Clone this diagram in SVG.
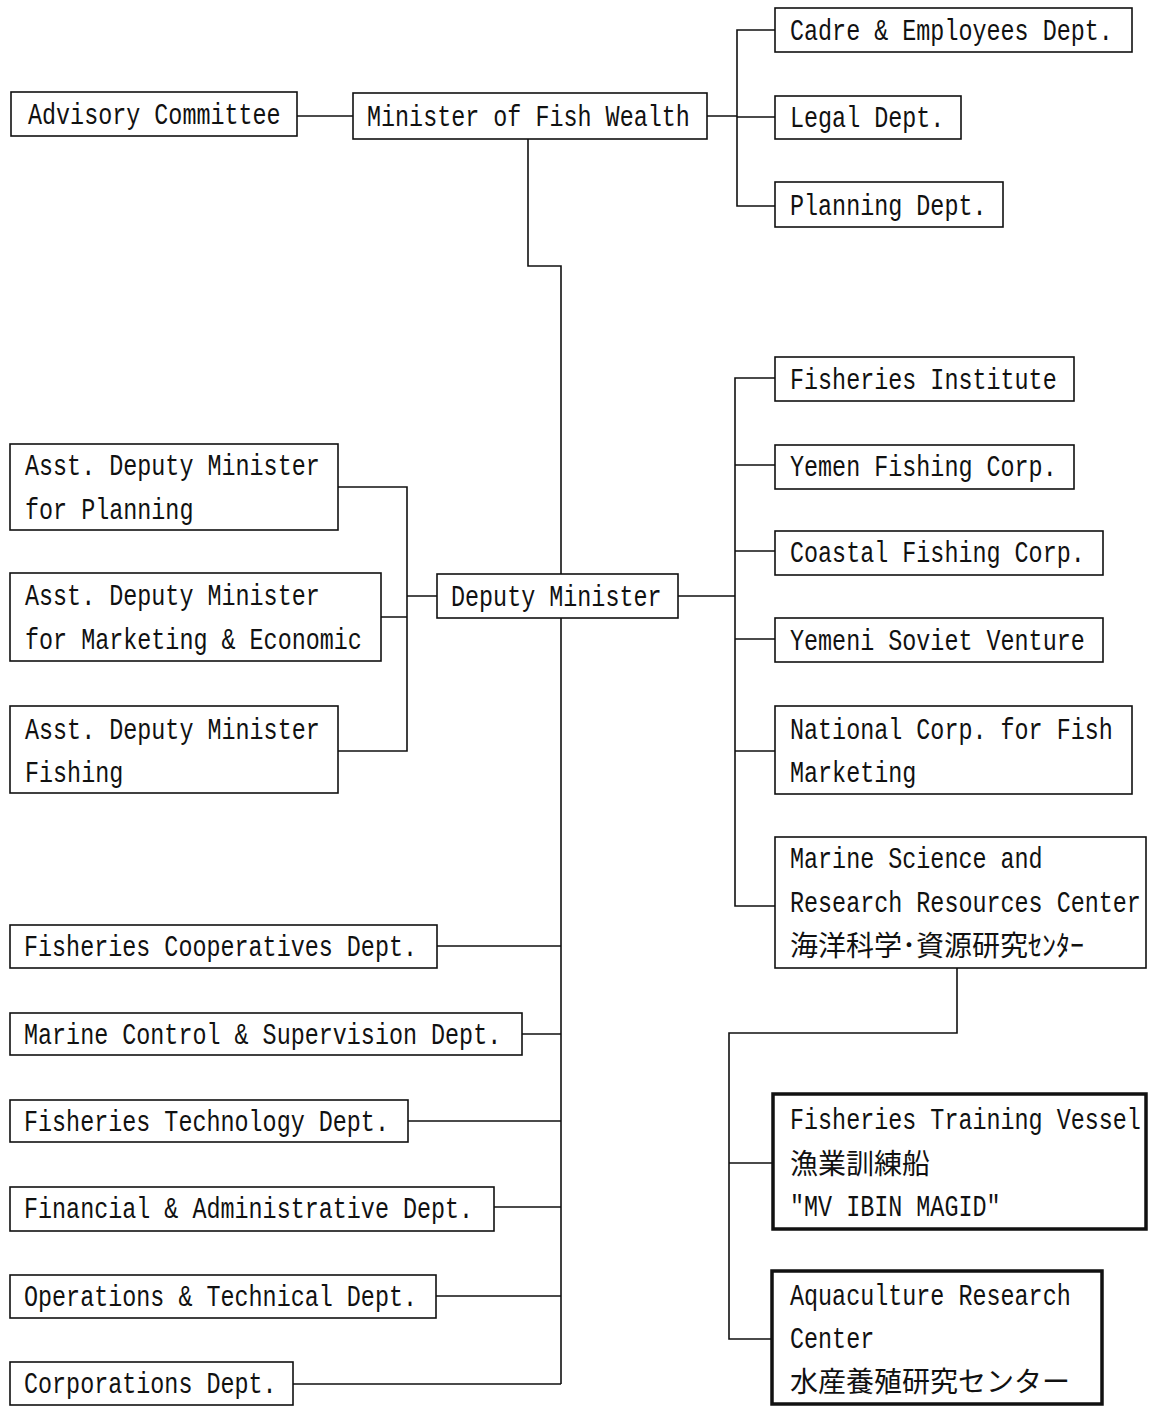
<svg xmlns="http://www.w3.org/2000/svg" width="1150" height="1407" viewBox="0 0 1150 1407">
<style>
.bx{fill:#fff;stroke:#111;stroke-width:1.6}
.bk{fill:#fff;stroke:#111;stroke-width:3.5}
.ln{fill:none;stroke:#111;stroke-width:1.6}
.t{font-family:"Liberation Mono","DejaVu Sans Mono",monospace;font-size:23.4px;fill:#111}
.j{font-family:"Noto Sans CJK JP","Noto Sans CJK SC",sans-serif;font-size:28px;fill:#111}
</style>
<rect width="1150" height="1407" fill="#fff"/>
<g id="connectors" class="ln">
<path d="M297 116H353"/>
<path d="M707 116H737M775 30H737V206H775M737 117H775"/>
<path d="M528 139V266H561V1384"/>
<path d="M338 487H407V751H338M381 617H407M407 596H437"/>
<path d="M678 596H735M775 378H735V906H775M735 465H775M735 551H775M735 639H775M735 751H775"/>
<path d="M957 968V1033H729V1339H772M729 1163H773"/>
<path d="M437 946H561M522 1034H561M408 1121H561M494 1207H561M436 1296H561M293 1384H561"/>
</g>
<g id="advisory"><rect class="bx" x="11" y="92" width="286" height="44"/><text class="t" transform="translate(28 124) scale(1 1.3)">Advisory Committee</text></g>
<g id="minister"><rect class="bx" x="353" y="93" width="354" height="46"/><text class="t" transform="translate(367 126) scale(1 1.3)">Minister of Fish Wealth</text></g>
<g id="cadre"><rect class="bx" x="775" y="8" width="357" height="44"/><text class="t" transform="translate(790 40) scale(1 1.3)">Cadre &amp; Employees Dept.</text></g>
<g id="legal"><rect class="bx" x="775" y="96" width="186" height="43"/><text class="t" transform="translate(790 127) scale(1 1.3)">Legal Dept.</text></g>
<g id="planning"><rect class="bx" x="775" y="182" width="228" height="45"/><text class="t" transform="translate(790 215) scale(1 1.3)">Planning Dept.</text></g>
<g id="deputy"><rect class="bx" x="437" y="574" width="241" height="44"/><text class="t" transform="translate(451 606) scale(1 1.3)">Deputy Minister</text></g>
<g id="asst-planning"><rect class="bx" x="10" y="444" width="328" height="86"/><text class="t" transform="translate(25 475) scale(1 1.3)">Asst. Deputy Minister</text><text class="t" transform="translate(25 519) scale(1 1.3)">for Planning</text></g>
<g id="asst-marketing"><rect class="bx" x="10" y="573" width="371" height="88"/><text class="t" transform="translate(25 605) scale(1 1.3)">Asst. Deputy Minister</text><text class="t" transform="translate(25 649) scale(1 1.3)">for Marketing &amp; Economic</text></g>
<g id="asst-fishing"><rect class="bx" x="10" y="706" width="328" height="87"/><text class="t" transform="translate(25 739) scale(1 1.3)">Asst. Deputy Minister</text><text class="t" transform="translate(25 782) scale(1 1.3)">Fishing</text></g>
<g id="fisheries-institute"><rect class="bx" x="775" y="357" width="299" height="44"/><text class="t" transform="translate(790 389) scale(1 1.3)">Fisheries Institute</text></g>
<g id="yemen-fishing"><rect class="bx" x="775" y="445" width="299" height="44"/><text class="t" transform="translate(790 476) scale(1 1.3)">Yemen Fishing Corp.</text></g>
<g id="coastal"><rect class="bx" x="775" y="531" width="328" height="44"/><text class="t" transform="translate(790 562) scale(1 1.3)">Coastal Fishing Corp.</text></g>
<g id="yemeni-soviet"><rect class="bx" x="775" y="618" width="328" height="44"/><text class="t" transform="translate(790 650) scale(1 1.3)">Yemeni Soviet Venture</text></g>
<g id="national-corp"><rect class="bx" x="775" y="706" width="357" height="88"/><text class="t" transform="translate(790 739) scale(1 1.3)">National Corp. for Fish</text><text class="t" transform="translate(790 782) scale(1 1.3)">Marketing</text></g>
<g id="marine-science"><rect class="bx" x="775" y="837" width="371" height="131"/><text class="t" transform="translate(790 868) scale(1 1.3)">Marine Science and</text><text class="t" transform="translate(790 912) scale(1 1.3)">Research Resources Center</text><text class="j" x="790" y="956">海洋科学･資源研究ｾﾝﾀｰ</text></g>
<g id="training-vessel"><rect class="bk" x="773" y="1094" width="373" height="135"/><text class="t" transform="translate(790 1129) scale(1 1.3)">Fisheries Training Vessel</text><text class="j" x="790" y="1174">漁業訓練船</text><text class="t" transform="translate(790 1216) scale(1 1.3)">"MV IBIN MAGID"</text></g>
<g id="aquaculture"><rect class="bk" x="772" y="1271" width="330" height="133"/><text class="t" transform="translate(790 1305) scale(1 1.3)">Aquaculture Research</text><text class="t" transform="translate(790 1348) scale(1 1.3)">Center</text><text class="j" x="790" y="1392">水産養殖研究センター</text></g>
<g id="cooperatives"><rect class="bx" x="10" y="925" width="427" height="43"/><text class="t" transform="translate(24 956) scale(1 1.3)">Fisheries Cooperatives Dept.</text></g>
<g id="marine-control"><rect class="bx" x="10" y="1013" width="512" height="42"/><text class="t" transform="translate(24 1044) scale(1 1.3)">Marine Control &amp; Supervision Dept.</text></g>
<g id="technology"><rect class="bx" x="10" y="1100" width="398" height="42"/><text class="t" transform="translate(24 1131) scale(1 1.3)">Fisheries Technology Dept.</text></g>
<g id="financial"><rect class="bx" x="10" y="1187" width="484" height="44"/><text class="t" transform="translate(24 1218) scale(1 1.3)">Financial &amp; Administrative Dept.</text></g>
<g id="operations"><rect class="bx" x="10" y="1275" width="426" height="43"/><text class="t" transform="translate(24 1306) scale(1 1.3)">Operations &amp; Technical Dept.</text></g>
<g id="corporations"><rect class="bx" x="10" y="1362" width="283" height="43"/><text class="t" transform="translate(24 1393) scale(1 1.3)">Corporations Dept.</text></g>
</svg>
